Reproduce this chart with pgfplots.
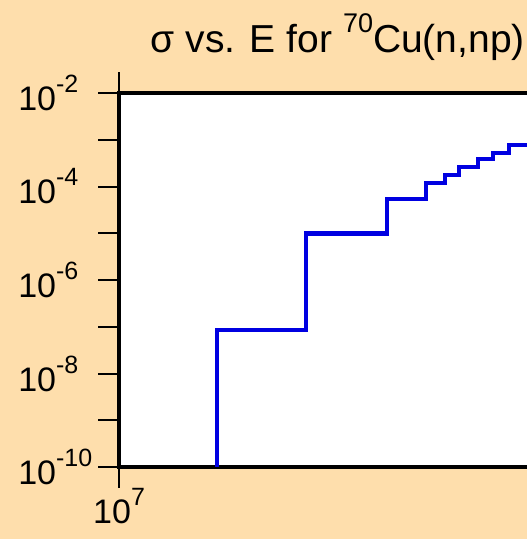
\documentclass[border=0pt]{standalone}
\usepackage{fontspec}
\setmainfont{Liberation Sans}
\usepackage{pgfplots}
\pgfplotsset{compat=1.18}
\definecolor{peach}{RGB}{254,222,172}
\definecolor{plotblue}{RGB}{0,0,225}
% superscript in the text font: size, text
\newcommand{\up}[2]{\raisebox{0.53em}{\fontsize{#1}{#1}\selectfont #2}}

\begin{document}
\begin{tikzpicture}[x=1pt,y=1pt]
\fill[peach] (0,0) rectangle (527,539);
\path[use as bounding box] (0,0) rectangle (527,539);
\clip (0,0) rectangle (527,539);
\node[anchor=base east, inner sep=0pt, font=\fontsize{39}{44}\selectfont] at (525,486)
  {σ vs. E for \up{27}{70}Cu(n,np)};
\begin{axis}[
    at={(119pt,72pt)}, anchor=south west,
    scale only axis, width=600pt, height=374pt,
    xmode=log, ymode=log,
    xmin=1e7, xmax=1e8,
    ymin=1e-10, ymax=1e-2,
    axis background/.style={fill=white},
    axis line style={line width=4pt},
    tick align=outside,
    major tick length=21pt,
    every tick/.style={black, line width=2pt},
    xminorticks=false, yminorticks=false,
    xtick={1e7},
    xticklabels={10\up{25}{7}},
    ytick={1e-10,1e-9,1e-8,1e-7,1e-6,1e-5,1e-4,1e-3,1e-2},
    yticklabels={10\up{25}{-10},,10\up{25}{-8},,10\up{25}{-6},,10\up{25}{-4},,10\up{25}{-2}},
    ticklabel style={font=\fontsize{34}{38}\selectfont},
    xticklabel style={inner sep=0pt},
    yticklabel style={anchor=west, inner sep=0pt, xshift=-80pt},
]
\addplot[const plot, plotblue, line width=4.5pt] coordinates {
    (1.457e7,1e-10)
    (1.457e7,8.5e-8)
    (2.049e7,9.9e-6)
    (2.797e7,5.4e-5)
    (3.248e7,1.19e-4)
    (3.494e7,1.78e-4)
    (3.687e7,2.63e-4)
    (3.966e7,3.89e-4)
    (4.201e7,5.25e-4)
    (4.467e7,7.76e-4)
    (5.2e7,7.76e-4)
};
\end{axis}
\end{tikzpicture}
\end{document}
